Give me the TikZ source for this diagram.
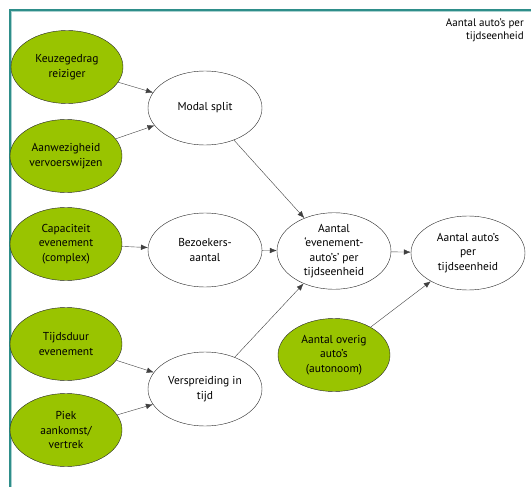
\documentclass[tikz,border=0pt]{standalone}
\usepackage{fontspec}
\setmainfont{PT Sans}
\usetikzlibrary{shapes.geometric, arrows.meta}
\definecolor{kadergroen}{HTML}{2E8E8A}
\definecolor{factorgroen}{HTML}{99C400}

\begin{document}
\begin{tikzpicture}[x=1pt, y=-1pt, >={Latex[length=7pt, width=5.5pt]},
  factor/.style={ellipse, draw=black!85, fill=factorgroen, minimum width=112pt, minimum height=73pt, inner sep=0pt, align=center, font=\fontsize{11.5}{14.5}\selectfont},
  grootheid/.style={ellipse, draw=black!85, fill=white, minimum width=114pt, minimum height=74pt, inner sep=0pt, align=center, font=\fontsize{11.5}{14.5}\selectfont},
  pijl/.style={->, draw=black!75, thin}]
\useasboundingbox (0,0) rectangle (531,487);
\draw[kadergroen, line width=2.5pt] (10,487) -- (10,10) -- (531,10);
\draw[kadergroen!40, line width=0.8pt] (11.5,487) -- (11.5,11.5) -- (531,11.5);
\node[anchor=north east, align=right, font=\fontsize{11}{13}\selectfont, inner sep=0pt] (titel) at (524,18) {Aantal auto’s per\\tijdseenheid};
\node[factor] (keuze) at (67,67) {Keuzegedrag\\reiziger};
\node[factor] (aanw) at (66,156) {Aanwezigheid\\vervoerswijzen};
\node[factor] (capa) at (66,244) {Capaciteit\\evenement\\(complex)};
\node[factor] (duur) at (66,344) {Tijdsduur\\evenement};
\node[factor] (piek) at (66,430) {Piek\\aankomst/\\vertrek};
\node[grootheid] (modal) at (205,108) {Modal split};
\node[grootheid] (bezoek) at (205,250) {Bezoekers-\\aantal};
\node[grootheid] (spreid) at (205,389) {Verspreiding in\\tijd};
\node[grootheid] (evauto) at (334,251) {Aantal\\‘evenement-\\auto’s’ per\\tijdseenheid};
\node[grootheid] (totaal) at (468,253) {Aantal auto’s\\per\\tijdseenheid};
\node[factor] (overig) at (334,355) {Aantal overig\\auto’s\\(autonoom)};
\draw[pijl] (keuze) -- (modal);
\draw[pijl] (aanw) -- (modal);
\draw[pijl] (modal) -- (evauto);
\draw[pijl] (capa) -- (bezoek);
\draw[pijl] (bezoek) -- (evauto);
\draw[pijl] (evauto) -- (totaal);
\draw[pijl] (duur) -- (spreid);
\draw[pijl] (piek) -- (spreid);
\draw[pijl] (spreid) -- (evauto);
\draw[pijl] (overig) -- (totaal);
\end{tikzpicture}
\end{document}
